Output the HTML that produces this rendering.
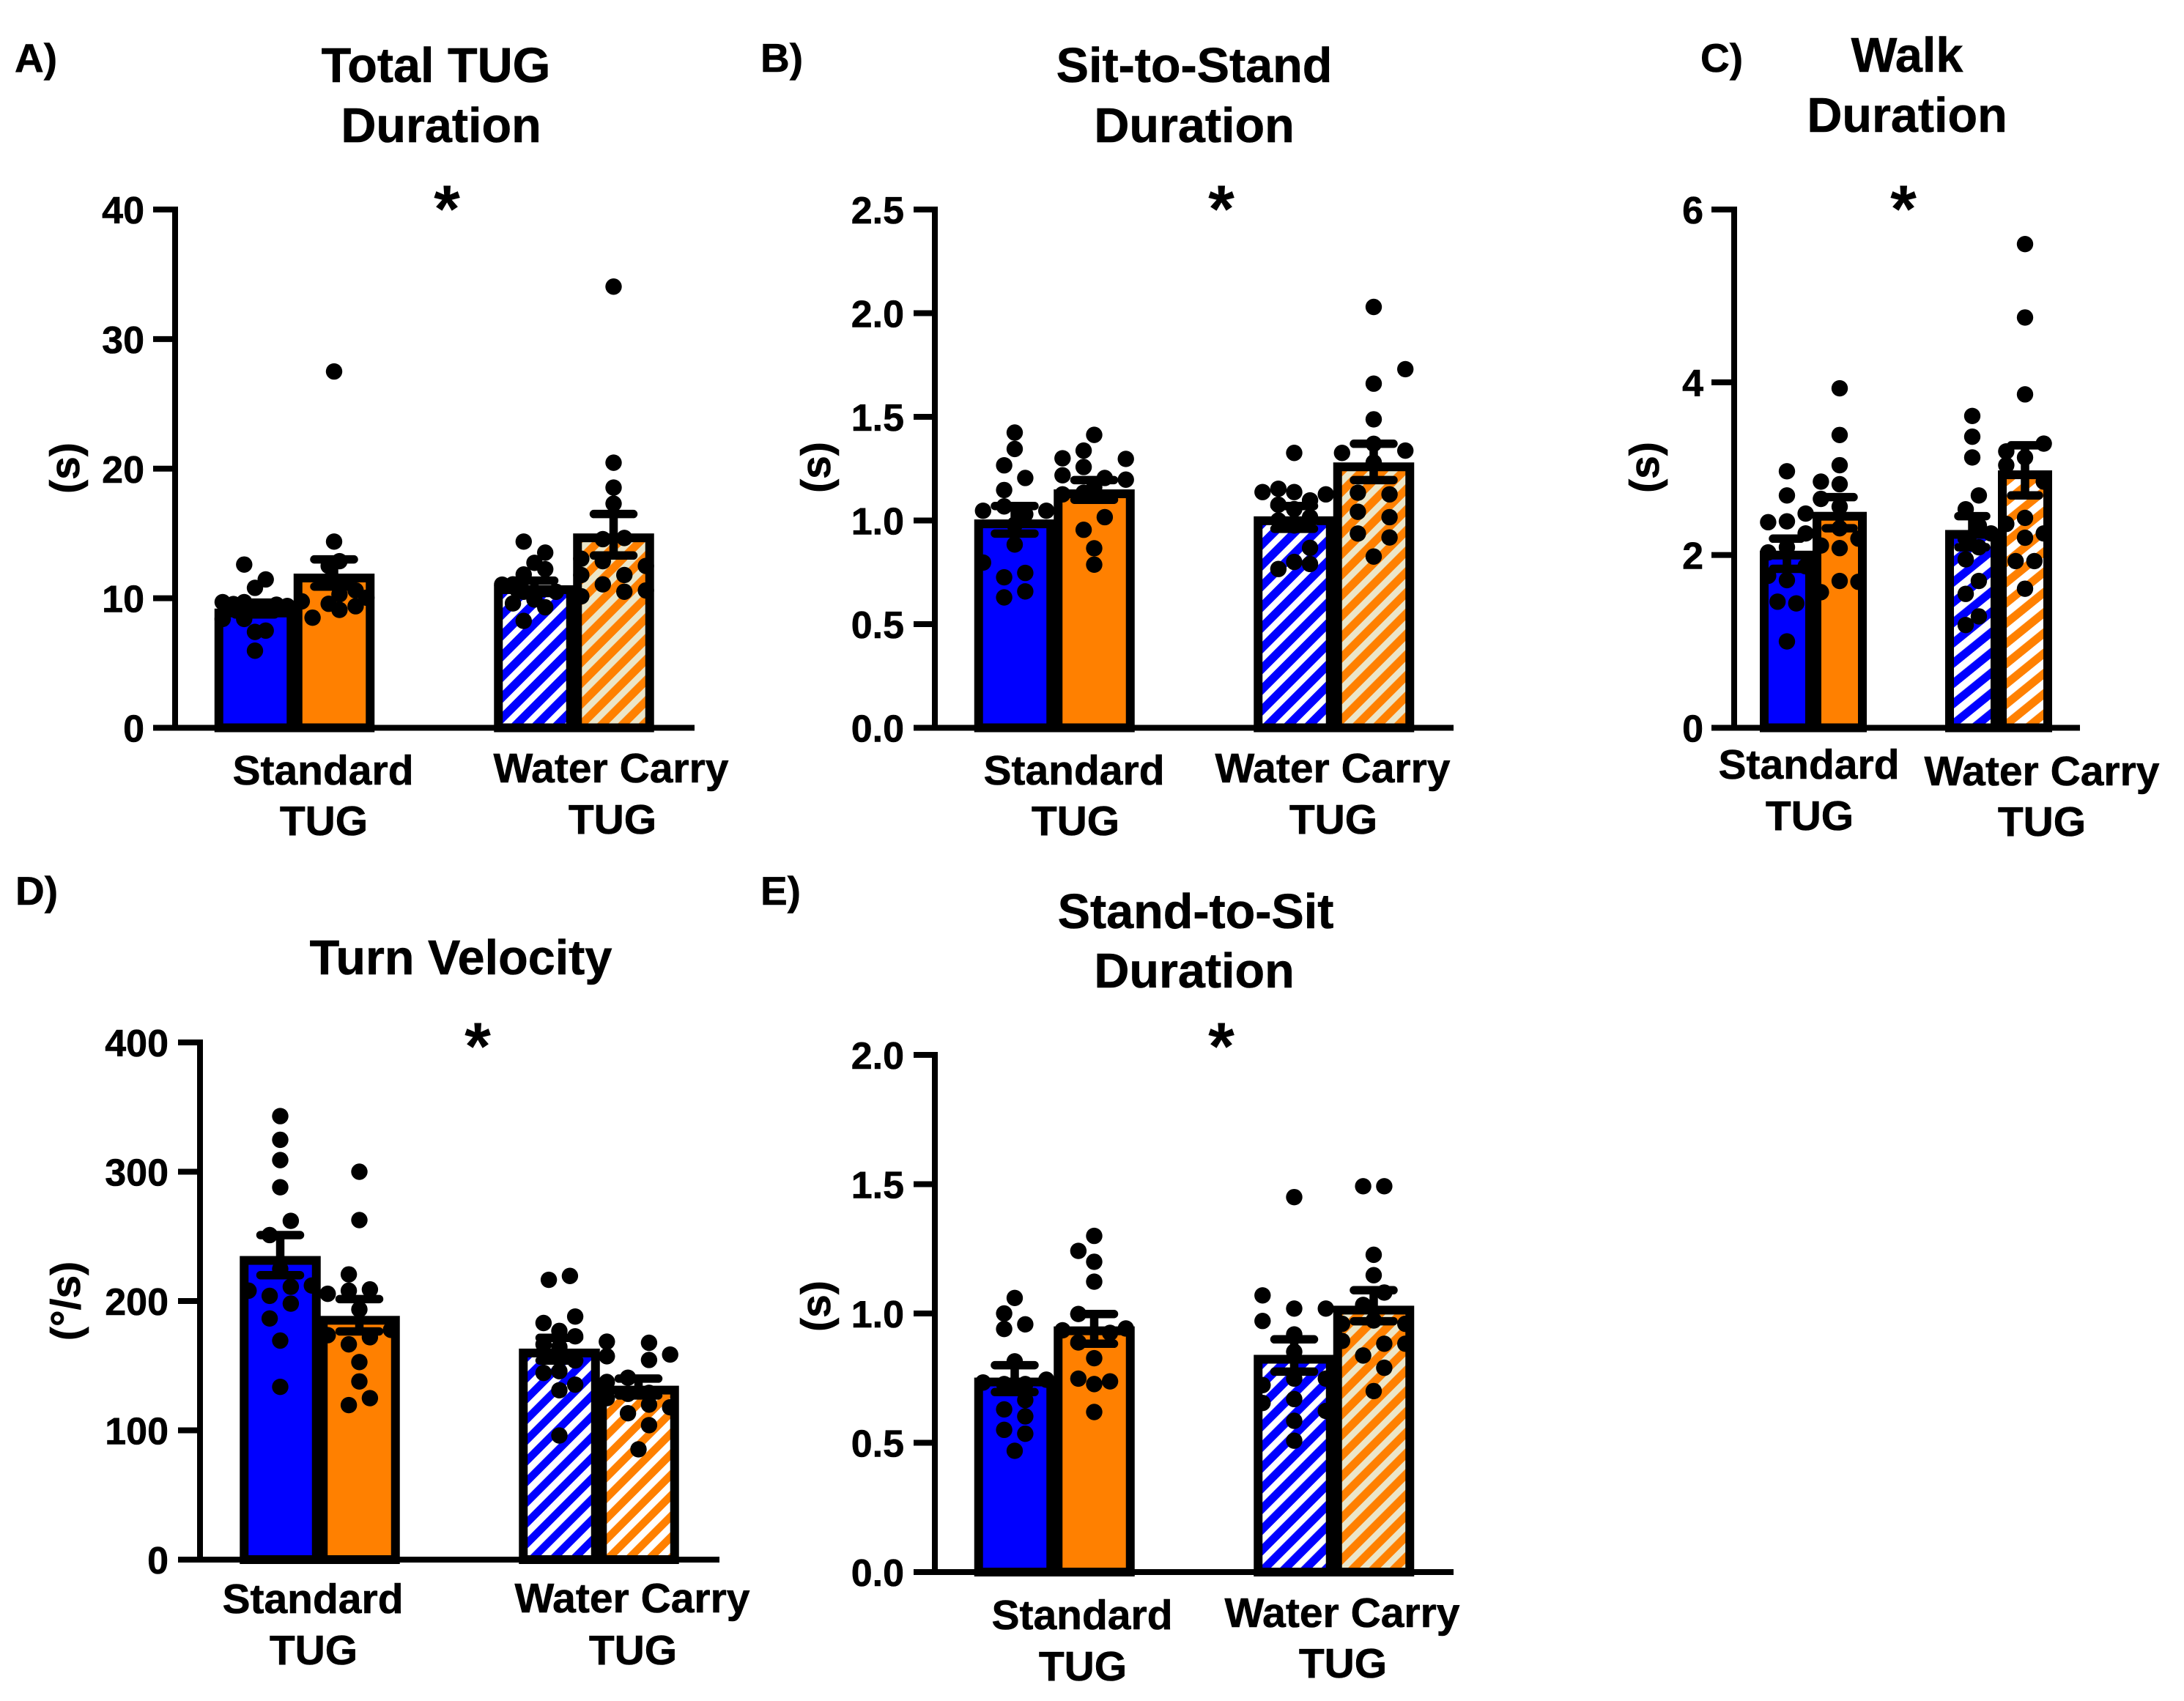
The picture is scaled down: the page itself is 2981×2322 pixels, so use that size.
<!DOCTYPE html>
<html lang="en">
<head>
<meta charset="utf-8">
<title>TUG outcomes</title>
<style>
html,body{margin:0;padding:0;background:#fff;width:2981px;height:2322px;overflow:hidden}
svg{display:block}
text{font-family:"Liberation Sans",Arial,sans-serif;font-weight:bold;fill:#000;stroke:#000;stroke-width:.6px}
.title{font-size:66.5px;text-anchor:middle}
.xl{font-size:57px;text-anchor:middle}
.pl{font-size:55px}
.yl{font-size:57px;text-anchor:middle}
.star{font-size:92px;text-anchor:middle;stroke-width:0}
.tick{font-size:52px;text-anchor:end}
</style>
</head>
<body>
<svg id="figure" xmlns="http://www.w3.org/2000/svg" width="2981" height="2322" viewBox="0 0 2981 2322">
<defs>
<pattern id="hb-a" patternUnits="userSpaceOnUse" width="20" height="20" patternTransform="rotate(45) translate(3.5,0)"><rect width="20" height="20" fill="#0000ff"/><rect width="8.5" height="20" fill="#fff"/></pattern>
<pattern id="ho-a" patternUnits="userSpaceOnUse" width="20" height="20" patternTransform="rotate(45) translate(5.9,0)"><rect width="20" height="20" fill="#ff8000"/><rect width="8.8" height="20" fill="#ebe6c9"/></pattern>
<pattern id="hb-b" patternUnits="userSpaceOnUse" width="20" height="20" patternTransform="rotate(45) translate(9.2,0)"><rect width="20" height="20" fill="#0000ff"/><rect width="8.5" height="20" fill="#fff"/></pattern>
<pattern id="ho-b" patternUnits="userSpaceOnUse" width="20" height="20" patternTransform="rotate(45) translate(15.1,0)"><rect width="20" height="20" fill="#ff8000"/><rect width="8.8" height="20" fill="#ebe6c9"/></pattern>
<pattern id="hb-e" patternUnits="userSpaceOnUse" width="20" height="20" patternTransform="rotate(45) translate(0,0)"><rect width="20" height="20" fill="#0000ff"/><rect width="8.7" height="20" fill="#fff"/></pattern>
<pattern id="ho-e" patternUnits="userSpaceOnUse" width="20" height="20" patternTransform="rotate(45) translate(5.7,0)"><rect width="20" height="20" fill="#ff8000"/><rect width="8.8" height="20" fill="#ebe6c9"/></pattern>
<pattern id="hb-d" patternUnits="userSpaceOnUse" width="20" height="20" patternTransform="rotate(45) translate(3.6,0)"><rect width="20" height="20" fill="#0000ff"/><rect width="9.4" height="20" fill="#fff"/></pattern>
<pattern id="ho-d" patternUnits="userSpaceOnUse" width="20" height="20" patternTransform="rotate(45) translate(16.5,0)"><rect width="20" height="20" fill="#ff8000"/><rect width="9.4" height="20" fill="#fff"/></pattern>
<pattern id="hb-c" patternUnits="userSpaceOnUse" width="21.5" height="21.5" patternTransform="rotate(51) translate(0.4,0)"><rect width="21.5" height="21.5" fill="#0000ff"/><rect width="10.3" height="21.5" fill="#fff"/></pattern>
<pattern id="ho-c" patternUnits="userSpaceOnUse" width="21.5" height="21.5" patternTransform="rotate(51) translate(3.4,0)"><rect width="21.5" height="21.5" fill="#ff8000"/><rect width="10.3" height="21.5" fill="#fff"/></pattern>
</defs>

<g id="panel-a">
<text class="pl" x="20" y="98">A)</text>
<text class="title" x="595" y="112">Total TUG</text>
<text class="title" x="602" y="194">Duration</text>
<text class="star" x="610" y="317">*</text>
<text class="yl" transform="translate(108,639) rotate(-90)">(s)</text>
<text class="xl" x="441" y="1071">Standard</text>
<text class="xl" x="442" y="1140">TUG</text>
<text class="xl" x="834" y="1068">Water Carry</text>
<text class="xl" x="836" y="1138">TUG</text>
</g>

<g id="panel-b">
<text class="pl" x="1038" y="98">B)</text>
<text class="title" x="1630" y="112">Sit-to-Stand</text>
<text class="title" x="1630" y="194">Duration</text>
<text class="star" x="1667" y="317">*</text>
<text class="yl" transform="translate(1133,638) rotate(-90)">(s)</text>
<text class="xl" x="1466" y="1071">Standard</text>
<text class="xl" x="1468" y="1140">TUG</text>
<text class="xl" x="1819" y="1068">Water Carry</text>
<text class="xl" x="1820" y="1138">TUG</text>
</g>

<g id="panel-c">
<text class="pl" x="2321" y="98">C)</text>
<text class="title" x="2603" y="98">Walk</text>
<text class="title" x="2603" y="180">Duration</text>
<text class="star" x="2598" y="317">*</text>
<text class="yl" transform="translate(2264,638) rotate(-90)">(s)</text>
<text class="xl" x="2469" y="1063">Standard</text>
<text class="xl" x="2470" y="1133">TUG</text>
<text class="xl" x="2787" y="1072">Water Carry</text>
<text class="xl" x="2787" y="1141">TUG</text>
</g>

<g id="panel-d">
<text class="pl" x="21" y="1235">D)</text>
<text class="title" x="629" y="1330">Turn Velocity</text>
<text class="star" x="652" y="1460">*</text>
<text class="yl" transform="translate(109,1776) rotate(-90)">(°/s)</text>
<text class="xl" x="427" y="2202">Standard</text>
<text class="xl" x="428" y="2272">TUG</text>
<text class="xl" x="863" y="2201">Water Carry</text>
<text class="xl" x="864" y="2272">TUG</text>
</g>

<g id="panel-e">
<text class="pl" x="1038" y="1235">E)</text>
<text class="title" x="1632" y="1267">Stand-to-Sit</text>
<text class="title" x="1630" y="1348">Duration</text>
<text class="star" x="1667" y="1460">*</text>
<text class="yl" transform="translate(1133,1783) rotate(-90)">(s)</text>
<text class="xl" x="1477" y="2224">Standard</text>
<text class="xl" x="1478" y="2294">TUG</text>
<text class="xl" x="1832" y="2221">Water Carry</text>
<text class="xl" x="1833" y="2290">TUG</text>
</g>
</svg>

<script>
// Panel A
const aTicks = ["0","10","20","30","40"];
const aMeans = [9.2,11.9,11.0,15.0];
const aErrHigh = [9.66,13.0,11.36,16.5];
const aErrLow = [8.75,10.9,10.4,13.3];
const aDots = [
 [12.6,11.45,10.8,9.7,9.55,9.7,9.4,9.5,9.2,9.1,8.4,8.4,7.4,7.5,5.95],
 [27.5,14.37,12.86,12.49,9.76,9.57,9.1,9.38,10.6,10.04,8.5,10.3],
 [14.37,13.52,12.73,12.24,11.83,11.05,11.07,9.6,8.25,9.3,9.9,10.5,10.5],
 [34.05,20.46,18.54,17.3,14.56,14.65,13.05,12.86,12.49,11.79,11.79,11.07,10.5,10.6,10.15]
];
const aSwarm = [
 [-1,1,0,-3,-2,-1,3,2,0,1,-3,-1,0,1,0],
 [0,0,0.5,-0.5,-3,-0.5,0.5,2,2,3,-2,0.5],
 [-1,1,0,1,-1,-3,-2,-2,-1,1,0,-1,2],
 [0,0,0,0,-1,1,-3,-1,3,-3,1,-1,1,3,-3]
];

// Panel B
const bTicks = ["0.0","0.5","1.0","1.5","2.0","2.5"];
const bMeans = [1.005,1.15,1.02,1.28];
const bErrHigh = [1.07,1.195,1.07,1.37];
const bErrLow = [0.937,1.10,0.96,1.195];
const bDots = [
 [1.424,1.345,1.266,1.205,1.147,1.068,1.047,1.047,1.03,0.98,0.884,0.797,0.726,0.747,0.658,0.629],
 [1.413,1.337,1.30,1.297,1.258,1.218,1.205,1.197,1.126,1.16,1.134,1.016,0.955,0.866,0.787],
 [1.326,1.137,1.153,1.137,1.126,1.097,1.076,1.055,1.016,1.0,0.976,0.868,0.80,0.79,0.766],
 [2.03,1.73,1.66,1.488,1.326,1.337,1.37,1.28,1.134,1.126,1.042,1.016,0.937,0.918,0.826]
];
const bSwarm = [
 [0,0,-1,1,-1,-1,-3,3,1,0,0,-3,-1,1,1,-1],
 [0,-1,-3,3,-1,-3,1,3,-3,0,-1,1,-1,0,0],
 [0,-3,-1.5,0,3,1.5,-1.5,0,1.5,-1.5,0,1.5,0,1.5,-1.5],
 [0,3,0,0,-3,3,0,0,-1.5,1.5,-1.5,1.5,-1.5,1.5,0]
];

// Panel C
const cTicks = ["0","2","4","6"];
const cMeans = [2.05,2.5,2.29,2.98];
const cErrHigh = [2.19,2.67,2.45,3.27];
const cErrLow = [1.84,2.31,2.09,2.69];
const cDots = [
 [2.97,2.69,2.38,2.39,2.48,2.25,2.09,2.03,1.76,1.71,1.87,1.46,1.44,1.0],
 [3.93,3.39,3.04,2.85,2.82,2.65,2.56,2.31,2.11,2.08,2.19,1.70,1.69,1.57],
 [3.61,3.37,3.13,2.69,2.53,2.34,2.25,2.19,2.09,1.95,1.70,1.55,1.29,1.19],
 [5.6,4.75,3.86,3.29,3.2,3.13,3.04,2.85,2.43,2.36,2.2,2.25,1.93,1.93,1.61]
];
const cSwarm = [
 [0,0,-2,0,2,2,0,-2,-2,0,2,-1,1,0],
 [0,0,0,-2,0,-2,0,0,-2,0,2,0,2,-2],
 [0,0,0,0.7,-0.7,0.7,2,-0.7,0.7,-0.7,0.7,-0.7,0.7,-0.7],
 [0,0,0,2,-2,0,-2,2,0,-2,0,2,-1,1,0]
];

// Panel D
const dTicks = ["0","100","200","300","400"];
const dMeans = [234.8,188.5,163.2,134.5];
const dErrHigh = [251,201.5,171.5,140];
const dErrLow = [220,176.5,154,127];
const dDots = [
 [343,324.7,309,288,262,251,224.8,208,211,212,204,198,186.5,169.4,133.6],
 [300,262.6,220.6,205.6,208,209,193.5,173.6,177.7,172,166.5,152.8,137.8,124.9,119.5],
 [216.4,219.4,183,188,176.9,172.7,166.5,164.4,154,144.4,145.7,135.3,131,96],
 [168.6,167.7,158.6,157.3,154.4,140.7,137.4,124.9,128.2,129,119.9,117.8,113.2,104,85.3]
];
const dSwarm = [
 [0,0,0,0,1,-1,0,-3,1,3,-1,1,-1,0,0],
 [0,0,-1,-3,-1,1,0,-3,3,1,-1,0,0,1,-1],
 [-1,1,-1.5,1.5,0,1.5,-1.5,0,1.5,-1.5,0,1.5,0,0],
 [-3,1,3,-3,1,-1,-3,-3,-1,1,1,3,-1,1,0]
];

// Panel E
const eTicks = ["0.0","0.5","1.0","1.5","2.0"];
const eMeans = [0.752,0.95,0.84,1.03];
const eErrHigh = [0.80,0.998,0.90,1.09];
const eErrLow = [0.696,0.883,0.775,0.97];
const eDots = [
 [1.06,1.0,0.958,0.94,0.815,0.733,0.727,0.727,0.744,0.665,0.629,0.602,0.55,0.535,0.469],
 [1.30,1.242,1.2,1.123,0.998,0.935,0.942,0.888,0.925,0.827,0.748,0.7375,0.727,0.619],
 [1.45,1.07,1.019,1.019,0.971,0.919,0.852,0.723,0.748,0.748,0.669,0.654,0.623,0.585,0.508],
 [1.492,1.492,1.227,1.148,1.081,1.033,0.894,0.883,0.883,0.8375,0.79,0.70,0.973,0.96,0.96]
];
const eSwarm = [
 [0,-1,1,-1,0,-3,-1,1,3,1,-1,1,-1,1,0],
 [0,-1.5,0,0,-1.5,-3,3,-1.5,1.5,0,-1.5,1.5,0,0],
 [0,-3,0,3,-3,0,0,-3,0,3,0,-3,3,0,0],
 [-1,1,0,0,1,-1,-3,1,3,-1,1,0,0,-3,3]
];

const svgNS = "http://www.w3.org/2000/svg";
function make(tag, attrs, parent) {
  const node = document.createElementNS(svgNS, tag);
  for (const k in attrs) node.setAttribute(k, attrs[k]);
  parent.appendChild(node);
  return node;
}

function drawPanel(cfg) {
  const root = document.getElementById(cfg.id);
  const maxTick = parseFloat(cfg.ticks[cfg.ticks.length - 1]);
  const yScale = v => cfg.base - (v / maxTick) * (cfg.base - cfg.top);
  const xScale = i => cfg.first + (i < 2 ? i * cfg.step : cfg.gap + (i - 2) * cfg.step);
  const stroke = 12;
  const fills = ["#0000ff", "#ff8000", "url(#" + cfg.hatchBlue + ")", "url(#" + cfg.hatchOrange + ")"];

  cfg.means.forEach((m, i) => {
    const cx = xScale(i);
    const yTop = yScale(m) + stroke / 2;
    const bar = make("rect", {
      x: cx - cfg.barW / 2, y: yTop, width: cfg.barW, height: cfg.base - yTop,
      fill: fills[i], stroke: "#000", "stroke-width": stroke
    }, root);
    
    
  });

  const axis = make("path", {
    d: "M" + cfg.axisX + " " + (cfg.top - 4) + "V" + cfg.base + "H" + cfg.axisEnd,
    fill: "none", stroke: "#000", "stroke-width": 8
  }, root);
  
  

  cfg.ticks.forEach(t => {
    const y = yScale(parseFloat(t));
    const mark = make("line", {
      x1: cfg.tickLeft, x2: cfg.axisX, y1: y, y2: y, stroke: "#000", "stroke-width": 8
    }, root);
    
    
    const label = make("text", { class: "tick", x: cfg.tickText, y: y + 19 }, root);
    label.textContent = t;
    
    
  });

  cfg.dots.forEach((series, i) => {
    series.forEach((v, j) => {
      const dot = make("circle", {
        cx: xScale(i) + cfg.swarm[i][j] * cfg.slot, cy: yScale(v), r: 11.2, fill: "#000"
      }, root);
      
      
    });
  });

  cfg.means.forEach((m, i) => {
    const cx = xScale(i);
    const hi = yScale(cfg.errHigh[i]);
    const lo = yScale(cfg.errLow[i]);
    const err = make("path", {
      d: "M" + (cx - cfg.cap) + " " + hi + "H" + (cx + cfg.cap) +
         "M" + cx + " " + hi + "V" + lo +
         "M" + (cx - cfg.cap) + " " + lo + "H" + (cx + cfg.cap),
      fill: "none", stroke: "#000", "stroke-width": 11.5, "stroke-linecap": "round"
    }, root);
    
    
  });
}

drawPanel({id:"panel-a",ticks:aTicks,means:aMeans,errHigh:aErrHigh,errLow:aErrLow,dots:aDots,swarm:aSwarm,
  base:993.5,top:286,axisX:239,axisEnd:948,tickLeft:209,tickText:197,first:348,step:108,gap:381.5,barW:98.5,slot:14.7,cap:27,hatchBlue:"hb-a",hatchOrange:"ho-a"});
drawPanel({id:"panel-b",ticks:bTicks,means:bMeans,errHigh:bErrHigh,errLow:bErrLow,dots:bDots,swarm:bSwarm,
  base:993.5,top:286,axisX:1276,axisEnd:1984,tickLeft:1247,tickText:1234,first:1385,step:108.5,gap:381.5,barW:98.5,slot:14.4,cap:27,hatchBlue:"hb-b",hatchOrange:"ho-b"});
drawPanel({id:"panel-c",ticks:cTicks,means:cMeans,errHigh:cErrHigh,errLow:cErrLow,dots:cDots,swarm:cSwarm,
  base:993.5,top:286,axisX:2367,axisEnd:2839,tickLeft:2336,tickText:2325,first:2439,step:72,gap:253,barW:62,slot:12.8,cap:19,hatchBlue:"hb-c",hatchOrange:"ho-c"});
drawPanel({id:"panel-d",ticks:dTicks,means:dMeans,errHigh:dErrHigh,errLow:dErrLow,dots:dDots,swarm:dSwarm,
  base:2129,top:1423,axisX:273,axisEnd:982,tickLeft:243,tickText:230,first:382.5,step:108,gap:381,barW:98.5,slot:14.4,cap:27,hatchBlue:"hb-d",hatchOrange:"ho-d"});
drawPanel({id:"panel-e",ticks:eTicks,means:eMeans,errHigh:eErrHigh,errLow:eErrLow,dots:eDots,swarm:eSwarm,
  base:2146,top:1440,axisX:1276,axisEnd:1984,tickLeft:1247,tickText:1234,first:1385,step:108.5,gap:381.5,barW:98.5,slot:14.4,cap:27,hatchBlue:"hb-e",hatchOrange:"ho-e"});
</script>
</body>
</html>
